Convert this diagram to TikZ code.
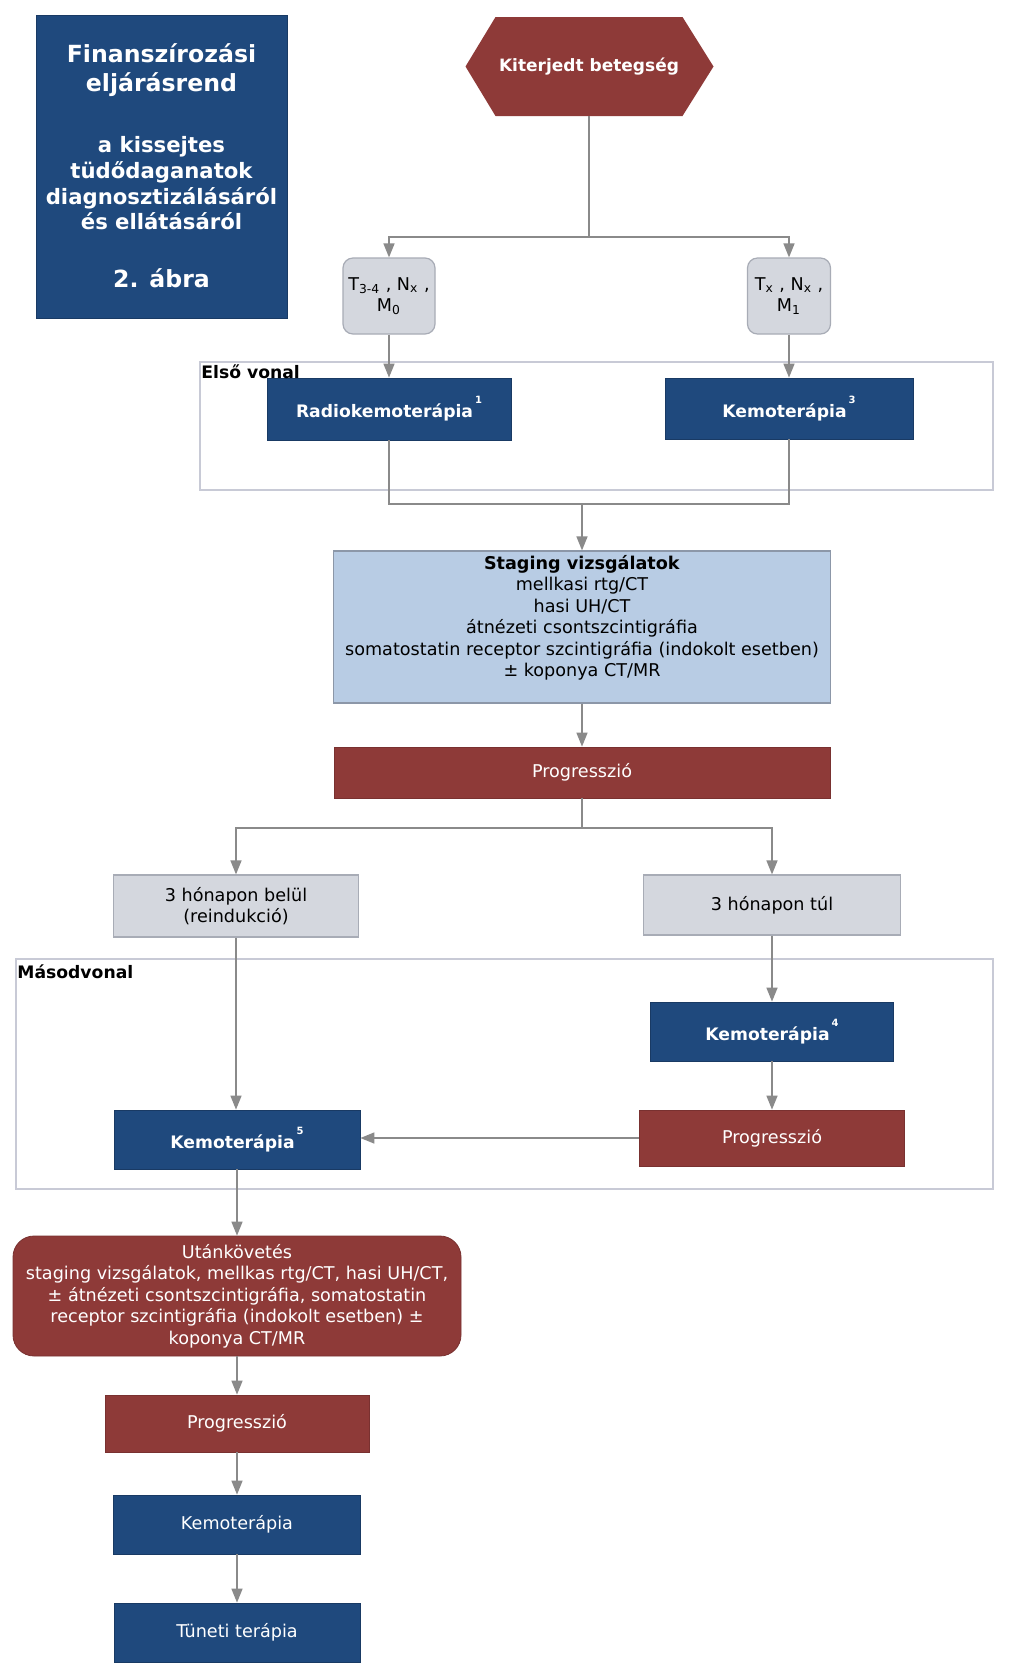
\documentclass[tikz,border=0pt]{standalone}
\usepackage{fontspec}
\setmainfont{DejaVu Sans}
\usetikzlibrary{arrows.meta}
\definecolor{bluec}{HTML}{1F497D}
\definecolor{redc}{HTML}{8E3A38}
\definecolor{grayf}{HTML}{D4D7DE}
\definecolor{grayd}{HTML}{A8ACB6}
\definecolor{lbf}{HTML}{B8CCE4}
\definecolor{lbd}{HTML}{8C97A8}
\definecolor{contc}{HTML}{C8CAD6}
\definecolor{linec}{HTML}{8A8A8A}
\newcommand{\supn}[1]{\kern1pt\raisebox{7pt}{\fontsize{5}{5}\selectfont\bfseries #1}}
\begin{document}
\begin{tikzpicture}[x=0.5pt,y=-0.5pt,
 sz/.style 2 args={minimum width=#1*0.5pt, minimum height=#2*0.5pt},
 base/.style={inner sep=0pt, align=center, font=\fontsize{8.8}{10.75}\selectfont},
 bf/.style={font=\fontsize{8.6}{10.5}\selectfont\bfseries},
 bluebox/.style={base, fill=bluec, draw=bluec!80!black, line width=0.4pt, text=white},
 redbox/.style={base, fill=redc, draw=redc!85!black, line width=0.4pt, text=white},
 graybox/.style={base, fill=grayf, draw=grayd, line width=0.6pt, text=black},
 tbox/.style={graybox, rounded corners=5pt},
 lbbox/.style={base, fill=lbf, draw=lbd, line width=0.6pt},
 container/.style={draw=contc, line width=0.6pt},
 conn/.style={draw=linec, line width=0.75pt},
 arr/.style={conn, -{Triangle[length=7pt,width=5.5pt]}},
 clabel/.style={inner sep=0pt, anchor=west, font=\fontsize{8.6}{10}\selectfont\bfseries},
]
\fill[white] (0,0) rectangle (1014,1677);
\useasboundingbox (0,0) rectangle (1014,1677);

% containers
\draw[container] (200,362) rectangle (993,490);
\draw[container] (16,959) rectangle (993,1189);

% title
\node[bluebox, sz={251}{303}] (title) at (161.5,166.5) {};
\node[base, text=white, font=\fontsize{11.8}{14.5}\selectfont\bfseries] (t1) at (161.5,70.5) {Finanszírozási\\eljárásrend};
\node[base, text=white, font=\fontsize{10.6}{12.85}\selectfont\bfseries] (t2) at (161.5,183.5) {a kissejtes\\tüdődaganatok\\diagnosztizálásáról\\és ellátásáról};
\node[base, text=white, font=\fontsize{11.8}{14.5}\selectfont\bfseries] (t3) at (161.5,278) {2. ábra};

% hexagon
\fill[redc] (495.5,17) -- (682.5,17) -- (713.5,66.5) -- (682.5,116) -- (495.5,116) -- (465.5,66.5) -- cycle;
\node[base, text=white, font=\fontsize{8.5}{10}\selectfont\bfseries, sz={187}{99}] (hex) at (589,66.5) {Kiterjedt betegség};

\node[tbox, sz={92}{76}] (ta) at (389,296) {T\textsubscript{3-4} , N\textsubscript{x} ,\\M\textsubscript{0}};
\node[tbox, sz={83}{76}] (tb) at (789,296) {T\textsubscript{x} , N\textsubscript{x} ,\\M\textsubscript{1}};

\node[bluebox, bf, sz={244}{62}] (radio) at (389,409) {Radiokemoterápia\supn{1}};
\node[bluebox, bf, sz={248}{61}] (k3) at (789,408.5) {Kemoterápia\supn{3}};

\coordinate (j1) at (589,237);
\coordinate (j2) at (582,504);
\coordinate (j3) at (582,828);

\node[lbbox, sz={497}{152}] (stg) at (582,627) {};
\node[base] (stgt) at (582,618) {\textbf{Staging vizsgálatok}\\mellkasi rtg/CT\\hasi UH/CT\\átnézeti csontszcintigráfia\\somatostatin receptor szcintigráfia (indokolt esetben)\\± koponya CT/MR};
\node[redbox, sz={496}{51}] (p1) at (582,772.5) {Progresszió};

\node[graybox, sz={245}{62}] (bel) at (236,906) {3 hónapon belül\\(reindukció)};
\node[graybox, sz={257}{60}] (tul) at (772,905) {3 hónapon túl};

\node[bluebox, bf, sz={243}{59}] (k4) at (772,1031.5) {Kemoterápia\supn{4}};
\node[redbox, sz={265}{56}] (p2) at (772,1138) {Progresszió};
\node[bluebox, bf, sz={246}{59}] (k5) at (237,1139.5) {Kemoterápia\supn{5}};

\node[redbox, rounded corners=10.5pt, sz={448}{120}] (ut) at (237,1296) {Utánkövetés\\staging vizsgálatok, mellkas rtg/CT, hasi UH/CT,\\± átnézeti csontszcintigráfia, somatostatin\\receptor szcintigráfia (indokolt esetben) ±\\koponya CT/MR};
\node[redbox, sz={264}{57}] (p3) at (237,1423.5) {Progresszió};
\node[bluebox, sz={247}{59}] (k6) at (237,1524.5) {Kemoterápia};
\node[bluebox, sz={246}{59}] (tun) at (237,1632.5) {Tüneti terápia};

% container labels (on top)
\node[clabel] (l1) at (201,372) {Első vonal};
\node[clabel] (l2) at (17,972) {Másodvonal};

% connectors
\draw[conn] (hex.south) -- (j1);
\draw[arr] (j1) -| (ta.north);
\draw[arr] (j1) -| (tb.north);
\draw[arr] (ta.south) -- (radio.north);
\draw[arr] (tb.south) -- (k3.north);
\draw[conn] (radio.south) |- (j2);
\draw[conn] (k3.south) |- (j2);
\draw[arr] (j2) -- (stg.north);
\draw[arr] (stg.south) -- (p1.north);
\draw[conn] (p1.south) -- (j3);
\draw[arr] (j3) -| (bel.north);
\draw[arr] (j3) -| (tul.north);
\draw[arr] (tul.south) -- (k4.north);
\draw[arr] (k4.south) -- (p2.north);
\draw[arr] (p2.west) -- (p2.west -| k5.east);
\draw[arr] (bel.south) -- (bel.south |- k5.north);
\draw[arr] (k5.south) -- (ut.north);
\draw[arr] (ut.south) -- (p3.north);
\draw[arr] (p3.south) -- (k6.north);
\draw[arr] (k6.south) -- (tun.north);
\end{tikzpicture}
\end{document}
